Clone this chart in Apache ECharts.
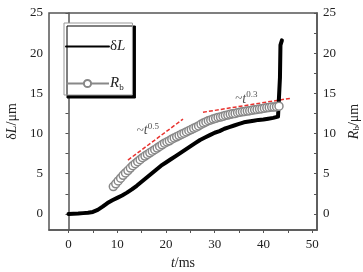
<!DOCTYPE html>
<html>
<head>
<meta charset="utf-8">
<script src="https://cdn.jsdelivr.net/npm/echarts@6/dist/echarts.min.js"></script>
<style>
  html, body { margin: 0; padding: 0; background: #fff; }
  #chart { width: 363px; height: 272px; }
</style>
</head>
<body>
<div id="chart"></div>
<script>
// δL (black line), t in ms
const dlTime = [0, 1, 2, 3, 4, 5, 6, 7, 8, 9, 10, 11, 12, 13, 14, 15, 16, 17, 18, 19, 20,
  21, 22, 23, 24, 25, 26, 27, 28, 29, 30, 31, 32, 33, 34, 35, 36, 37, 38, 39, 40, 41, 42, 43, 43.3, 43.4, 43.5, 43.8];
const dlVals = [0, 0.02, 0.05, 0.1, 0.15, 0.25, 0.5, 0.9, 1.35, 1.7, 2.0, 2.3, 2.65, 3.05, 3.5, 4.0, 4.5, 5.0, 5.5, 6.0, 6.4,
  6.8, 7.2, 7.6, 8.0, 8.4, 8.8, 9.2, 9.5, 9.8, 10.1, 10.3, 10.6, 10.8, 11.0, 11.2, 11.4, 11.5, 11.6, 11.7, 11.75, 11.85, 11.95, 12.1, 12.2, 17, 21.0, 21.6];

// Rb (open circles)
const rbTime = [9.2, 9.7, 10.2, 10.7, 11.2, 11.7, 12.2, 12.7, 13.2, 13.7, 14.2, 14.7, 15.2, 15.7, 16.2, 16.7,
  17.2, 17.7, 18.2, 18.7, 19.2, 19.7, 20.2, 20.7, 21.2, 21.7, 22.2, 22.7, 23.2, 23.7, 24.2, 24.7,
  25.2, 25.7, 26.2, 26.7, 27.2, 27.7, 28.2, 28.7, 29.2, 29.7, 30.2, 30.7, 31.2, 31.7, 32.2, 32.7,
  33.2, 33.7, 34.2, 34.7, 35.2, 35.7, 36.2, 36.7, 37.2, 37.7, 38.2, 38.7, 39.2, 39.7, 40.2, 40.7,
  41.2, 41.7, 42.2, 42.7, 43.2];
const rbVals = [3.4, 3.75, 4.1, 4.45, 4.8, 5.1, 5.4, 5.7, 6.0, 6.25, 6.5, 6.75, 7.0, 7.2, 7.4, 7.6,
  7.8, 8.0, 8.2, 8.4, 8.6, 8.8, 8.95, 9.1, 9.3, 9.45, 9.6, 9.75, 9.9, 10.05, 10.2, 10.35,
  10.5, 10.65, 10.8, 10.95, 11.15, 11.3, 11.45, 11.6, 11.7, 11.8, 11.9, 12.0, 12.05, 12.15, 12.25, 12.3,
  12.4, 12.45, 12.5, 12.6, 12.65, 12.7, 12.75, 12.8, 12.85, 12.9, 12.95, 13.0, 13.05, 13.1, 13.15, 13.2,
  13.25, 13.3, 13.3, 13.35, 13.4];

// fitted guide lines
const fitHalf = [[12.2, 6.7], [23.5, 11.8]];
const fitPoint3 = [[27.6, 12.65], [45.7, 14.4]];
const fitLabels = [[16.3, 10.4, '0.5'], [36.5, 14.3, '0.3']];

const xTicks = [0, 5, 10, 15, 20, 25, 30, 35, 40, 45, 50];
const xLabels = [0, 10, 20, 30, 40, 50];
const yTicks = [0, 2.5, 5, 7.5, 10, 12.5, 15, 17.5, 20, 22.5, 25];
const yLabels = [0, 5, 10, 15, 20, 25];

const serif = "'Liberation Serif', 'Times New Roman', serif";
const axisColor = '#555';

function yAxisCfg(name, pos) {
  return {
    type: 'value',
    position: pos,
    min: -2,
    max: 25,
    name: name,
    nameLocation: 'middle',
    nameRotate: 90,
    nameGap: pos === 'left' ? 30 : 27,
    nameTextStyle: {
      fontFamily: serif, fontSize: 14, color: '#222',
      rich: {
        i: { fontFamily: serif, fontSize: 14, fontStyle: 'italic', color: '#222' },
        s: { fontFamily: serif, fontSize: 9, color: '#222', verticalAlign: 'bottom', padding: [6, 0, 0, 0] }
      }
    },
    axisLine: { show: true, lineStyle: { color: axisColor, width: 1.5 } },
    axisTick: { show: true, inside: pos === 'right', length: 3, customValues: yTicks, lineStyle: { color: axisColor } },
    axisLabel: { customValues: yLabels, fontFamily: serif, fontSize: 13, color: '#222', margin: 6 },
    splitLine: { show: false }
  };
}

const chart = echarts.init(document.getElementById('chart'));
chart.setOption({
  animation: false,
  grid: {
    left: 49, right: 46, top: 13, bottom: 42,
    outerBoundsMode: 'none',
    show: true, borderColor: axisColor, borderWidth: 1.5
  },
  legend: {
    data: [
      { name: 'dL', itemStyle: { opacity: 0 } },
      { name: 'Rb' }
    ],
    orient: 'vertical',
    left: 64,
    top: 23,
    padding: [16, 7, 3, 1],
    itemGap: 22,
    itemWidth: 43,
    itemHeight: 9,
    backgroundColor: '#fff',
    borderColor: '#999',
    borderWidth: 1,
    shadowColor: '#000',
    shadowBlur: 0,
    shadowOffsetX: 3,
    shadowOffsetY: 3,
    formatter: function (name) {
      return name === 'dL' ? 'δ{i|L}' : '{i|R}{s|b}';
    },
    textStyle: {
      fontFamily: serif, fontSize: 15, color: '#222', padding: [0, 0, 0, -4],
      rich: {
        i: { fontFamily: serif, fontSize: 15, fontStyle: 'italic', color: '#222' },
        s: { fontFamily: serif, fontSize: 9, color: '#222', padding: [8, 0, 0, 0] }
      }
    }
  },
  xAxis: {
    type: 'value',
    min: -4,
    max: 51,
    name: '{i|t}/ms',
    nameLocation: 'middle',
    nameGap: 26,
    nameTextStyle: {
      fontFamily: serif, fontSize: 14, color: '#222',
      rich: { i: { fontFamily: serif, fontSize: 14, fontStyle: 'italic', color: '#222' } }
    },
    axisLine: { show: true, onZero: false, lineStyle: { color: axisColor, width: 1.5 } },
    axisTick: { show: true, length: 3, customValues: xTicks, lineStyle: { color: axisColor } },
    axisLabel: { customValues: xLabels, fontFamily: serif, fontSize: 13, color: '#222', margin: 8 },
    splitLine: { show: false }
  },
  yAxis: [
    yAxisCfg('δ{i|L}/μm', 'left'),
    yAxisCfg('{i|R}{s|b}/μm', 'right')
  ],
  series: [
    {
      name: 'fit05',
      type: 'line',
      data: fitHalf,
      symbol: 'none',
      lineStyle: { color: '#e8322e', width: 1.5, type: [4, 2] },
      z: 1
    },
    {
      name: 'fit03',
      type: 'line',
      data: fitPoint3,
      symbol: 'none',
      lineStyle: { color: '#e8322e', width: 1.5, type: [4, 2] },
      z: 1
    },
    {
      name: 'dL',
      type: 'line',
      data: dlTime.map((t, i) => [t, dlVals[i]]),
      symbol: 'none',
      lineStyle: { color: '#000', width: 4, cap: 'round', join: 'round' },
      itemStyle: { color: '#000' },
      z: 2
    },
    {
      name: 'Rb',
      type: 'line',
      data: rbTime.map((t, i) => [t, rbVals[i]]),
      symbol: 'circle',
      symbolSize: 8,
      showSymbol: true,
      lineStyle: { color: '#888', width: 1.5 },
      itemStyle: { color: '#fff', borderColor: '#888', borderWidth: 1.5 },
      z: 3
    },
    {
      name: 'labels',
      type: 'scatter',
      data: fitLabels.map(d => [d[0], d[1], d[2]]),
      symbolSize: 0,
      label: {
        show: true,
        position: 'inside',
        formatter: p => '~{i|t}{s|' + p.data[2] + '}',
        fontFamily: serif, fontSize: 13, color: '#222',
        rich: {
          i: { fontFamily: serif, fontSize: 14, fontStyle: 'italic', color: '#222' },
          s: { fontFamily: serif, fontSize: 9, color: '#222', padding: [0, 0, 8, 0] }
        }
      },
      z: 4
    }
  ]
});
</script>
</body>
</html>
